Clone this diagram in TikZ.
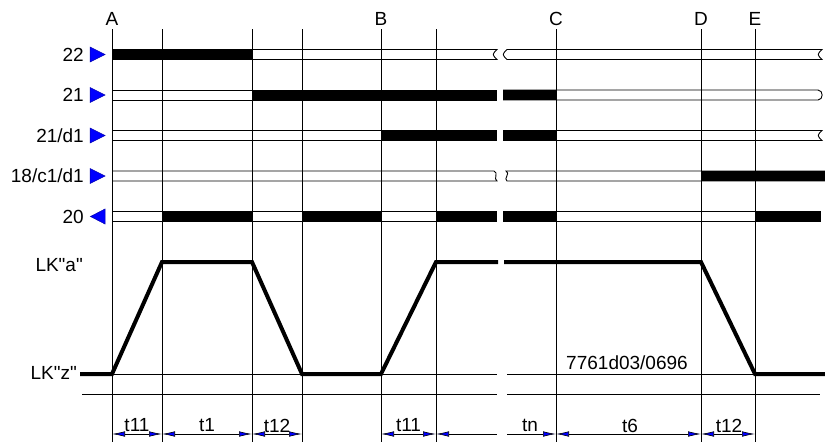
\documentclass[tikz,border=0pt]{standalone}
\usepackage{fontspec}
\setmainfont{Liberation Sans}[Ligatures=TeXOff]
\usetikzlibrary{arrows.meta}
\begin{document}
\begin{tikzpicture}[x=1pt,y=-1pt,
  gridline/.style={line width=0.9pt,black},
  trackline/.style={line width=0.9pt,black},
  lbl/.style={font=\fontsize{19}{21}\selectfont,inner sep=0pt},
  tri/.style={fill=blue,draw=blue!70!black,line width=0.5pt},
  wave/.style={line width=4pt,line join=miter},
  dimtip/.tip={Latex[length=13pt,width=5.5pt,fill=blue,line width=0.6pt]},
  dimboth/.style={line width=0.9pt,dimtip-dimtip},
  dimleft/.style={line width=0.9pt,dimtip-},
  dimright/.style={line width=0.9pt,-dimtip}
]
\useasboundingbox (0,0) rectangle (825,442);
% vertical grid lines
\foreach \x/\n in {112/a,162/b,252/c,302/d,381/e,436/f,556/g,701/h,755/i}{
  \coordinate (top\n) at (\x,29);
  \coordinate (bot\n) at (\x,442);
  \draw[gridline] (top\n) -- (bot\n);
}
% letters
\node[lbl] (lA) at (112,19) {A};
\node[lbl] (lB) at (381,19) {B};
\node[lbl] (lC) at (556,19) {C};
\node[lbl] (lD) at (701,19) {D};
\node[lbl] (lE) at (755,19) {E};
% signal labels
\node[lbl,anchor=east] (s22) at (84,54.5) {22};
\node[lbl,anchor=east] (s21) at (84,95) {21};
\node[lbl,anchor=east] (s21d) at (84,135.5) {21/d1};
\node[lbl,anchor=east] (s18) at (84,176) {18/c1/d1};
\node[lbl,anchor=east] (s20) at (84,216.5) {20};
% triangles
\filldraw[tri] (90,47) -- (105,54.5) -- (90,62) -- cycle;
\filldraw[tri] (90,87.5) -- (105,95) -- (90,102.5) -- cycle;
\filldraw[tri] (90,128) -- (105,135.5) -- (90,143) -- cycle;
\filldraw[tri] (90,168.5) -- (105,176) -- (90,183.5) -- cycle;
\filldraw[tri] (105,209) -- (90.5,216.5) -- (105,224) -- cycle;
% track 22
\draw[trackline] (112,49.5) -- (497,49.5) .. controls (492,54.5) .. (497,59.5) -- (112,59.5);
\draw[trackline] (507,59.5) .. controls (502,54.5) .. (507,49.5) -- (822,49.5) .. controls (817,54.5) .. (822,59.5) -- cycle;
\fill (112,49.5) rectangle (252,59.5);
% track 21
\draw[trackline] (112,90) -- (497,90) (112,100) -- (497,100);
\draw[trackline] (503,90) -- (818,90) .. controls (823.5,90) and (823.5,100) .. (818,100) -- (503,100);
\fill (252,90) rectangle (497,100);
\fill (503,90) rectangle (556,100);
% track 21/d1
\draw[trackline] (112,130.5) -- (497,130.5) (112,140.5) -- (497,140.5);
\draw[trackline] (503,140.5) -- (822,140.5) .. controls (817,135.5) .. (822,130.5) -- (503,130.5);
\fill (381,130.5) rectangle (497,140.5);
\fill (503,130.5) rectangle (556,140.5);
% track 18/c1/d1
\draw[trackline] (112,171) -- (494,171) .. controls (499,173) and (493,179) .. (497,181) -- (112,181);
\draw[trackline] (825,171) -- (506,171) .. controls (511,173) and (503,179) .. (507,181) -- (825,181);
\fill (701,171) rectangle (825,181);
% track 20
\draw[trackline] (112,211) -- (497,211) (112,221.5) -- (497,221.5);
\draw[trackline] (503,211) -- (821,211) (503,221.5) -- (821,221.5);
\fill (162,211) rectangle (252,221.5);
\fill (302,211) rectangle (381,221.5);
\fill (436,211) rectangle (497,221.5);
\fill (503,211) rectangle (556,221.5);
\fill (755,211) rectangle (821,221.5);
% thin horizontal lines
\draw[gridline] (82,374) -- (497,374) (507,374) -- (820,374);
\draw[gridline] (82,394) -- (497,394) (507,394) -- (820,394);
% waveform
\draw[wave] (80,374) -- (112,374) -- (162,262) -- (252,262) -- (302,374) -- (381,374) -- (436,262) -- (498,262);
\draw[wave] (504,262) -- (701,262) -- (755,374) -- (825,374);
% level labels
\node[lbl,anchor=east] (la) at (83,265) {LK"a"};
\node[lbl,anchor=east] (lz) at (77,373) {LK"z"};
\node[lbl] (code) at (627,362.5) {7761d03/0696};
% dimension coordinates
\foreach \x/\n in {112/a,162/b,252/c,302/d,381/e,436/f,497/g1,507/g2,556/g,701/h,755/i}{
  \coordinate (d\n) at (\x,434);
}
\draw[dimboth] (da) -- (db);
\draw[dimboth] (db) -- (dc);
\draw[dimboth] (dc) -- (dd);
\draw[dimboth] (de) -- (df);
\draw[dimleft] (df) -- (dg1);
\draw[dimright] (dg2) -- (dg);
\draw[dimboth] (dg) -- (dh);
\draw[dimboth] (dh) -- (di);
% dimension labels
\node[lbl] (t11a) at (137,425.5) {t11};
\node[lbl] (t1) at (207,425.5) {t1};
\node[lbl] (t12a) at (277,425.5) {t12};
\node[lbl] (t11b) at (408.5,425.5) {t11};
\node[lbl] (tn) at (530,425.5) {tn};
\node[lbl] (t6) at (630,425.5) {t6};
\node[lbl] (t12b) at (729,425.5) {t12};
\end{tikzpicture}
\end{document}
